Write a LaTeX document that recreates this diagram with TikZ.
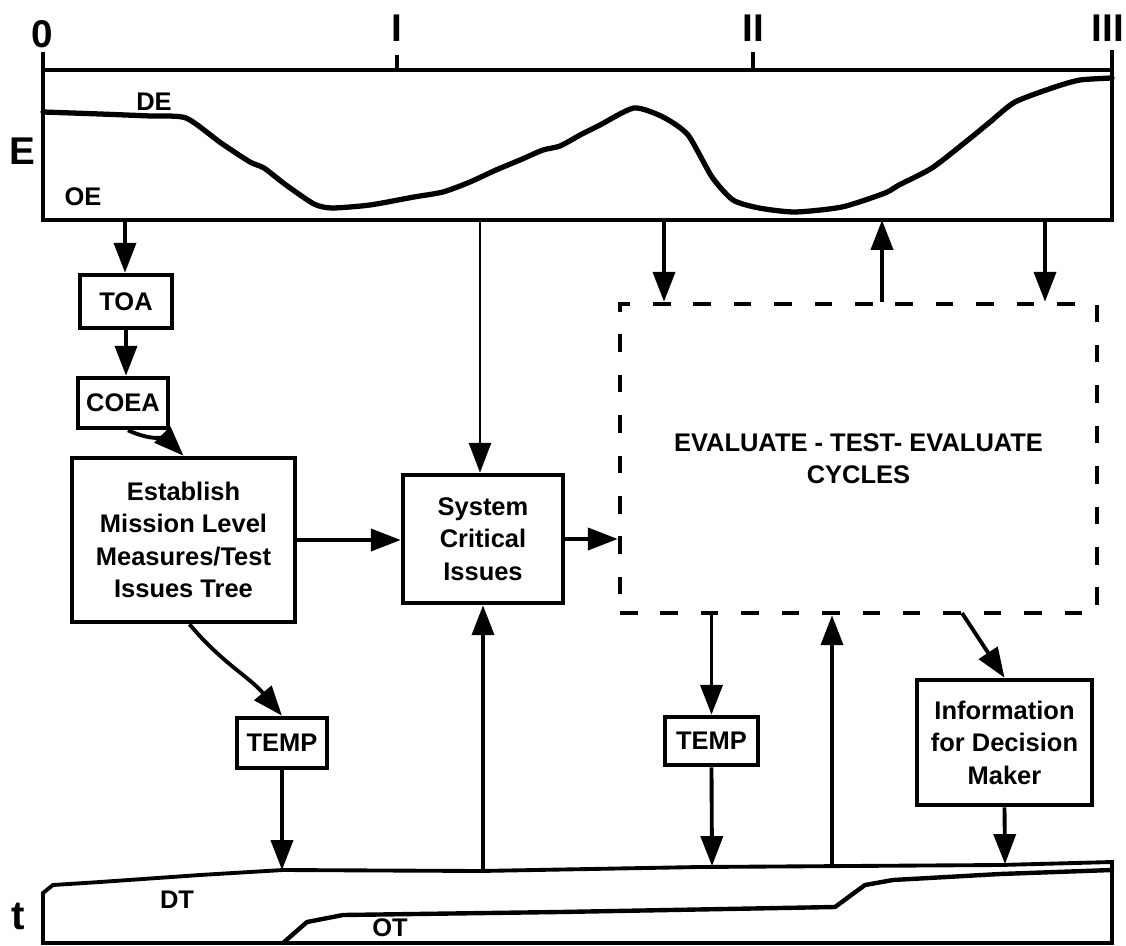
\documentclass[tikz,border=0pt]{standalone}
\usepackage{fontspec}
\setmainfont{Liberation Sans}
\usetikzlibrary{arrows.meta}
\begin{document}
\begin{tikzpicture}[x=0.02cm,y=-0.02cm,
  txt/.style={font=\bfseries\fontsize{14.5}{18.5}\selectfont},
  big/.style={font=\bfseries\fontsize{22}{26}\selectfont},
  box/.style={txt,draw,line width=2.6pt,align=center,inner sep=0pt},
  link/.style={line width=2.2pt,-{Triangle[length=17pt,width=12.5pt]}},
  frame/.style={line width=2.2pt},
  trace/.style={line width=3pt,line join=round,line cap=round}]
  \useasboundingbox (0,0) rectangle (1126,946);
  \draw[frame] (43,52) -- (43,220) -- (1112,220) -- (1112,50) (43,70) -- (1112,70)
    (397,55) -- (397,70) (753,52) -- (753,70);
  \node[big] (l0) at (42,34) {0};
  \node[big] (l1) at (397,28) {I};
  \node[big] (l2) at (753,28) {II};
  \node[big] (l3) at (1108,28) {III};
  \node[big] (eff) at (22,151) {E};
  \node[txt] (de) at (154,102) {DE};
  \node[txt] (oe) at (83,197) {OE};
  \draw[trace] plot[smooth,tension=0.4] coordinates {(43,112) (100,114) (150,116) (186,118)
    (221,143) (250,162) (264,168) (286,185) (314,204) (332,208) (370,205) (414,197)
    (443,192) (470,182) (496,170) (520,160) (543,150) (560,146) (582,134) (600,125)
    (634,108) (663,117) (688,135) (712,177) (733,200) (759,208) (795,212) (842,207)
    (885,193) (899,185) (932,168) (968,140) (990,122) (1015,102) (1055,87) (1080,80) (1112,78)};
  \draw[frame] (43,943) -- (43,893) -- (53,885) -- (100,882) -- (200,875) -- (283,870)
    -- (480,871) -- (700,867) -- (1000,865) -- (1112,862) -- (1112,943) -- cycle;
  \draw[trace,line width=2.5pt] (283,943) -- (307,922) -- (343,915) -- (560,912) -- (835,907)
    -- (865,885) -- (893,880) -- (1000,874) -- (1112,870);
  \node[big,font=\bfseries\fontsize{23}{26}\selectfont] (tim) at (18,916) {t};
  \node[txt] (dt) at (177,900) {DT};
  \node[txt] (ot) at (390,928) {OT};

  \node[box,minimum width=1.84cm,minimum height=1.06cm] (toa) at (126,301.5) {TOA};
  \node[box,minimum width=1.8cm,minimum height=1cm] (coea) at (123,403) {COEA};
  \node[box,minimum width=4.46cm,minimum height=3.28cm] (est) at (183.5,540)
    {Establish\\Mission Level\\Measures/Test\\Issues Tree};
  \node[box,minimum width=3.2cm,minimum height=2.56cm] (sci) at (483,539)
    {System\\Critical\\Issues};
  \node[box,dash pattern=on 10pt off 13pt,minimum width=9.54cm,minimum height=6.18cm] (ete)
    at (858.5,458.5) {EVALUATE - TEST- EVALUATE\\CYCLES};
  \node[box,minimum width=1.8cm,minimum height=1cm] (temp1) at (282,743) {TEMP};
  \node[box,minimum width=1.86cm,minimum height=0.96cm] (temp2) at (711.5,741) {TEMP};
  \node[box,minimum width=3.5cm,minimum height=2.5cm] (info) at (1004.5,742.5)
    {Information\\for Decision\\Maker};

  \coordinate (e1) at (125,220);
  \coordinate (e2) at (480,220);
  \coordinate (e3) at (664,220);
  \coordinate (e4) at (882,220);
  \coordinate (e5) at (1045,220);
  \coordinate (c1) at (962,613);
  \coordinate (d1) at (483,872);
  \coordinate (d2) at (282,870);
  \coordinate (d3) at (712,866);
  \coordinate (d4) at (832,867);
  \coordinate (d5) at (1005,864);

  \draw[link] (e1) -- (e1 |- toa.north);
  \draw[link] (toa.south) -- (toa.south |- coea.north);
  \draw[link] ([xshift=0.1cm]coea.south) to[out=-25,in=135] (est.north);
  \draw[link] (est.east) -- (est.east -| sci.west);
  \draw[link] (sci.east) -- (sci.east -| ete.west);
  \draw[link,line width=1.6pt] (e2) -- (e2 |- sci.north);
  \draw[link] (d1) -- (d1 |- sci.south);
  \draw[link] (e3) -- (e3 |- ete.north);
  \draw[link] (e4 |- ete.north) -- (e4);
  \draw[link] (e5) -- (e5 |- ete.north);
  \draw[link] ([xshift=0.12cm]est.south) to[out=-50,in=130] (temp1.north);
  \draw[link] (temp1.south) -- (d2);
  \draw[link] (ete.south -| temp2.north) -- (temp2.north);
  \draw[link] (temp2.south) -- (d3);
  \draw[link] (d4) -- (d4 |- ete.south);
  \draw[link] (c1) -- (info.north);
  \draw[link] (info.south) -- (d5);
\end{tikzpicture}
\end{document}
